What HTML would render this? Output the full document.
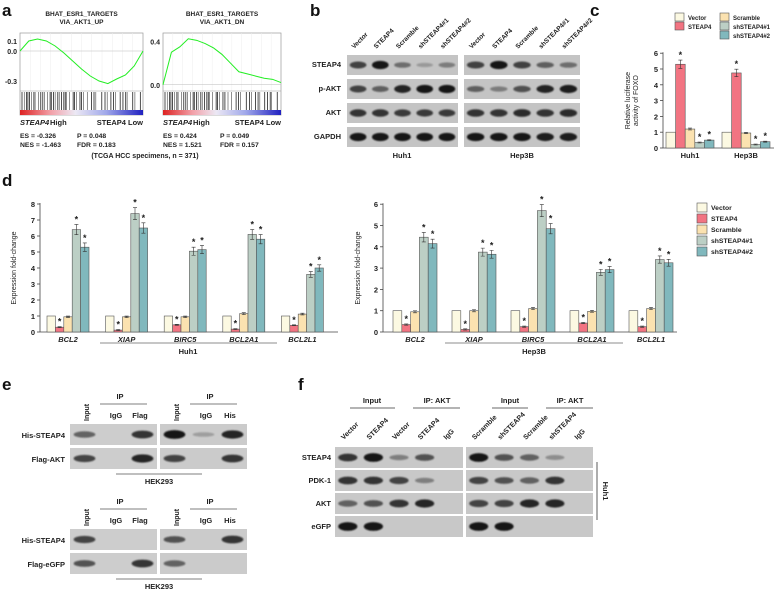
<!DOCTYPE html>
<html><head><meta charset="utf-8"><style>
body{margin:0;background:#fff}
svg{display:block;font-family:"Liberation Sans",Arial,sans-serif}
.t{font-weight:bold;fill:#222}
.pl{font-size:17px;font-weight:bold;fill:#111}
</style></head><body>
<svg id="s" width="777" height="590" viewBox="0 0 777 590">
<defs><filter id="bl" x="-20%" y="-50%" width="140%" height="200%"><feGaussianBlur stdDeviation="0.9"/></filter>
<linearGradient id="hm" x1="0" x2="1"><stop offset="0" stop-color="#d22"/><stop offset="0.25" stop-color="#f2a0a8"/><stop offset="0.45" stop-color="#ece8f4"/><stop offset="0.7" stop-color="#a0a8ea"/><stop offset="1" stop-color="#2020c0"/></linearGradient></defs>
<text class="pl" x="2" y="16">a</text>
<text class="pl" x="310" y="16">b</text>
<text class="pl" x="590" y="16">c</text>
<text class="pl" x="2" y="186">d</text>
<text class="pl" x="2" y="390">e</text>
<text class="pl" x="298" y="390">f</text>
<g id="g"></g>
</svg>
<script>
// ---- data ----
const genes=["BCL2","XIAP","BIRC5","BCL2A1","BCL2L1"];
const groups=["Vector","STEAP4","Scramble","shSTEAP4#1","shSTEAP4#2"];
const huh1Vals=[[1,0.3,0.95,6.4,5.3],[1,0.12,0.95,7.4,6.5],[1,0.45,0.95,5.05,5.15],[1,0.18,1.15,6.1,5.8],[1,0.42,1.12,3.6,4.0]];
const hep3bVals=[[1,0.35,0.95,4.45,4.15],[1,0.12,1.0,3.75,3.65],[1,0.25,1.1,5.7,4.85],[1,0.42,0.97,2.8,2.93],[1,0.25,1.1,3.4,3.25]];
const foxoCells=["Huh1","Hep3B"];
const foxoVals=[[1,5.3,1.2,0.35,0.5],[1,4.75,0.95,0.22,0.4]];
const gseaUp=[0,0.1,0.12,0.1,0.05,-0.02,-0.1,-0.18,-0.25,-0.3,-0.326,-0.28,-0.24,-0.15,0];
const gseaDn=[0,0.3,0.35,0.424,0.41,0.38,0.34,0.28,0.2,0.12,0.1,0.08,0.06,0.05,0.02];
const bandsB=[[0.7,1,0.4,0.1,0.3,0.7,1,0.7,0.5,0.4],[0.7,0.5,0.9,1,1,0.5,0.3,0.6,0.9,0.95],[0.8,0.8,0.75,0.75,0.75,0.8,0.8,0.85,0.8,0.85],[1,1,1,1,1,1,1,1,0.95,0.95]];
const bandsF=[[0.8,1,0.3,0.6,0,1,0.6,0.5,0.2,0],[0.8,0.8,0.7,0.3,0,0.7,0.6,0.5,0.8,0],[0.5,0.6,0.8,0.9,0,0.7,0.7,0.9,0.9,0],[1,1,0,0,0,1,1,0,0,0]];
const colors=["#fcf9e2","#f27482","#fbe2b0","#bccfc5","#80b8bd"];
const NS="http://www.w3.org/2000/svg",G=document.getElementById("g");
function el(t,a,p){const e=document.createElementNS(NS,t);for(const k in a)e.setAttribute(k,a[k]);(p||G).appendChild(e);return e}
function tx(x,y,s,o){o=o||{};const e=el("text",Object.assign({x:x,y:y,class:"t","text-anchor":o.a||"start"},o.at||{}));if(o.it)e.setAttribute("font-style","italic");e.style.fontSize=(o.fs||8)+"px";e.textContent=s;

return e}

// ---- panel a ----
function gsea(x0,x1,title1,title2,vals,ymax,ymin,ticks,es,nes,p,fdr,nm){
 const yT=33,yB=91;const ys=v=>yT+3+(ymax-v)/(ymax-ymin)*(yB-yT-6);
 tx((x0+x1)/2,16,title1,{a:"middle",fs:6.5});tx((x0+x1)/2,24,title2,{a:"middle",fs:6.5});
 const box=el("rect",{x:x0,y:yT,width:x1-x0,height:82,fill:"#fff",stroke:"#999","stroke-width":0.7});
 
 for(let i=1;i<12;i++)el("line",{x1:x0+i*(x1-x0)/12,x2:x0+i*(x1-x0)/12,y1:yT,y2:yB,stroke:"#eee","stroke-width":0.5});
 el("line",{x1:x0,x2:x1,y1:ys(0),y2:ys(0),stroke:"#bbb","stroke-width":0.6});
 ticks.forEach(t=>tx(x0-3,ys(t)+3,t.toFixed(1),{a:"end",fs:7,n:"y-tick"}));
 el("line",{x1:x0,x2:x1,y1:yB,y2:yB,stroke:"#999","stroke-width":0.5});
 const pts=vals.map((v,i)=>[x0+i*(x1-x0)/(vals.length-1),ys(v)]);
 const ln=el("polyline",{points:pts.map(q=>q.join(",")).join(" "),fill:"none",stroke:"#2e2","stroke-width":1});
 
 let s=7;for(let x=x0+2;x<x1-2;){s=(s*9301+49297)%233280;const r=s/233280;el("line",{x1:x,x2:x,y1:yB+1,y2:110,stroke:"#222","stroke-width":r<0.5?0.8:0.5});x+=1+r*(x<(x0+x1)/2?2.5:5);}
 el("rect",{x:x0,y:110,width:x1-x0,height:5,fill:"url(#hm)"});
 tx(x0,125,"STEAP4",{it:1,fs:7.5});tx(x0+30,125,"High",{fs:7.5});
 tx(x1,125,"STEAP4 Low",{a:"end",fs:7.5});
 tx(x0,138,"ES = "+es,{fs:6.8});tx(x0,147,"NES = "+nes,{fs:6.8});
 tx(x0+57,138,"P = "+p,{fs:6.8});tx(x0+57,147,"FDR = "+fdr,{fs:6.8});
}
gsea(20,143,"BHAT_ESR1_TARGETS","VIA_AKT1_UP",gseaUp,0.15,-0.37,[0.1,0.0,-0.3],"-0.326","-1.463","0.048","0.183","gsea-up");
gsea(163,281,"BHAT_ESR1_TARGETS","VIA_AKT1_DN",gseaDn,0.45,-0.03,[0.4,0.0],"0.424","1.521","0.049","0.157","gsea-dn");
tx(145,158,"(TCGA HCC specimens, n = 371)",{a:"middle",fs:7,n:"tcga-caption"});

// ---- blots ----
function band(cx,cy,w,h,int){if(int<=0.02)return;const b=el("ellipse",{cx:cx,cy:cy,rx:w/2,ry:h/2*(0.5+int*0.6),fill:"#111",opacity:Math.min(1,0.15+int*0.8),filter:"url(#bl)"});
}
function blot(x,y,w,h,lanes,ints,nm,bg){const r=el("rect",{x:x,y:y,width:w,height:h,fill:bg||"#c4c4c4"});
 const lw=w/lanes;ints.forEach((v,i)=>band(x+lw*(i+0.5),y+h/2,lw*0.75,h*0.38,v));}
// panel b
const bRows=["STEAP4","p-AKT","AKT","GAPDH"],bY=[55,79,103,127];
const bLanes=["Vector","STEAP4","Scramble","shSTEAP4#1","shSTEAP4#2"];
bRows.forEach((r,i)=>{tx(341,bY[i]+12,r,{a:"end",fs:7.5,n:"row-label"});
 blot(347,bY[i],111,20,5,bandsB[i].slice(0,5),"blot-b-huh1");blot(464,bY[i],116,20,5,bandsB[i].slice(5),"blot-b-hep3b");});
[347,464].forEach((x0,k)=>{const w=k?116:111;bLanes.forEach((l,i)=>{const cx=x0+w/5*(i+0.5);tx(cx-4,49,l,{fs:6.5,at:{transform:`rotate(-45 ${cx-4} 49)`},n:"lane-label"});});});
tx(402,158,"Huh1",{a:"middle",fs:7.5});tx(522,158,"Hep3B",{a:"middle",fs:7.5});

// ---- bar charts ----
function star(x,y){tx(x,y,"*",{a:"middle",fs:9,n:"sig-star"})}
function barChart(o){
 const ys=v=>o.y0-v*o.py;
 el("line",{x1:o.ax,x2:o.ax,y1:ys(o.ymax)-1,y2:o.y0,stroke:"#444","stroke-width":0.8});
 el("line",{x1:o.ax,x2:o.axEnd,y1:o.y0,y2:o.y0,stroke:"#444","stroke-width":0.8});
 for(let t=0;t<=o.ymax;t++){el("line",{x1:o.ax-3,x2:o.ax,y1:ys(t),y2:ys(t),stroke:"#444","stroke-width":0.8});tx(o.ax-5,ys(t)+3,String(t),{a:"end",fs:7.5,n:"y-tick"});}
 const yt=tx(o.ytx,(ys(o.ymax)+o.y0)/2,o.ytitle[0],{a:"middle",fs:7,at:{transform:`rotate(-90 ${o.ytx} ${(ys(o.ymax)+o.y0)/2})`},n:"y-axis-title"});yt.style.fontWeight="normal";
 if(o.ytitle[1]){const y2=tx(o.ytx+8,(ys(o.ymax)+o.y0)/2,o.ytitle[1],{a:"middle",fs:7,at:{transform:`rotate(-90 ${o.ytx+8} ${(ys(o.ymax)+o.y0)/2})`},n:"y-axis-title"});y2.style.fontWeight="normal";}
 o.vals.forEach((gv,gi)=>{const gx=o.gx0+gi*o.stride;
  gv.forEach((v,bi)=>{const x=gx+bi*o.bw;
   const r=el("rect",{x:x,y:ys(v),width:o.bw,height:v*o.py,fill:colors[bi],stroke:"#555","stroke-width":0.6});
   
   if(bi>0){const e=Math.max(0.03,v*0.05)*o.py,cx=x+o.bw/2;el("path",{d:`M${cx},${ys(v)-e}V${ys(v)+e}M${cx-2},${ys(v)-e}H${cx+2}M${cx-2},${ys(v)+e}H${cx+2}`,stroke:"#333","stroke-width":0.6,fill:"none"});}
   if(bi==1||bi==3||bi==4)star(x+o.bw/2,ys(v)-Math.max(0.03,v*0.05)*o.py-2);
  });
  tx(gx+o.bw*2.5,o.y0+10,o.cats[gi],{a:"middle",fs:7.5,it:o.itCats,n:"category-label"});
 });
}
barChart({vals:huh1Vals,cats:genes,ax:40,axEnd:338,y0:332,py:16,ymax:8,gx0:47,stride:58.6,bw:8.4,ytx:16,ytitle:["Expression fold-change"],itCats:1});
el("line",{x1:100,x2:277,y1:343,y2:343,stroke:"#666","stroke-width":0.7});tx(188,354,"Huh1",{a:"middle",fs:7.5});
barChart({vals:hep3bVals,cats:genes,ax:383,axEnd:677,y0:332,py:21.3,ymax:6,gx0:393,stride:59,bw:8.8,ytx:360,ytitle:["Expression fold-change"],itCats:1});
el("line",{x1:445,x2:623,y1:343,y2:343,stroke:"#666","stroke-width":0.7});tx(534,354,"Hep3B",{a:"middle",fs:7.5});
barChart({vals:foxoVals,cats:foxoCells,ax:663,axEnd:774,y0:148,py:15.8,ymax:6,gx0:666,stride:56,bw:9.6,ytx:630,ytitle:["Relative luciferase","activity of FOXO"],itCats:0});
// legends
groups.forEach((g,i)=>{const r=el("rect",{x:697,y:203+i*11,width:10,height:9,fill:colors[i],stroke:"#555","stroke-width":0.6});tx(711,210+i*11,g,{fs:6.8,n:"legend-entry"});});
const lp=[[675,13],[675,22],[720,13],[720,22],[720,31]];
groups.forEach((g,i)=>{const r=el("rect",{x:lp[i][0],y:lp[i][1],width:9,height:8,fill:colors[i],stroke:"#555","stroke-width":0.6});tx(lp[i][0]+13,lp[i][1]+7,g,{fs:6,n:"legend-entry"});});

// ---- panel e ----
function eBlock(y,rowNames,ints){
 [[70,"Flag"],[160,"His"]].forEach(([x0,t],k)=>{
  tx(x0+19,y-3,"Input",{a:"start",fs:7,at:{transform:`rotate(-90 ${x0+19} ${y-3})`},n:"lane-label"});
  tx(x0+50,y-25,"IP",{a:"middle",fs:7.5});el("line",{x1:x0+30,x2:x0+77,y1:y-20,y2:y-20,stroke:"#555","stroke-width":0.8});
  tx(x0+46,y-6,"IgG",{a:"middle",fs:7.5,n:"lane-label"});tx(x0+70,y-6,t,{a:"middle",fs:7.5,n:"lane-label"});
 });
 rowNames.forEach((r,i)=>{const yy=y+i*24;tx(65,yy+14,r,{a:"end",fs:7.5,n:"row-label"});
  blot(70,yy,87,21,3,ints[i].slice(0,3),"blot-e",'#cdcdcd');blot(160,yy,87,21,3,ints[i].slice(3),"blot-e",'#cbcbcb');});
 el("line",{x1:116,x2:202,y1:y+50,y2:y+50,stroke:"#555","stroke-width":0.8});tx(159,y+60,"HEK293",{a:"middle",fs:7.5});
}
const bandsE1=[[0.5,0,0.8,1,0.1,0.9],[0.7,0,0.9,0.7,0,0.8]];
const bandsE2=[[0.7,0,0,0.6,0,0.8],[0.6,0,0.8,0.5,0,0]];
eBlock(424,["His-STEAP4","Flag-AKT"],bandsE1);
eBlock(529,["His-STEAP4","Flag-eGFP"],bandsE2);

// ---- panel f ----
const fRows=["STEAP4","PDK-1","AKT","eGFP"],fY=[447,470,493,516];
const fLanes=[["Vector","STEAP4","Vector","STEAP4","IgG"],["Scramble","shSTEAP4","Scramble","shSTEAP4","IgG"]];
fRows.forEach((r,i)=>{tx(331,fY[i]+13,r,{a:"end",fs:7.5,n:"row-label"});
 blot(335,fY[i],128,21,5,bandsF[i].slice(0,5),"blot-f-left",'#c8c8c8');blot(466,fY[i],127,21,5,bandsF[i].slice(5),"blot-f-right",'#c8c8c8');});
[335,466].forEach((x0,k)=>{fLanes[k].forEach((l,i)=>{const cx=x0+25.6*(i+0.5)-4;tx(cx,440,l,{fs:7,at:{transform:`rotate(-45 ${cx} 440)`},n:"lane-label"});});});
[[372,350,395,"Input"],[437,413,460,"IP: AKT"],[510,492,528,"Input"],[570,546,593,"IP: AKT"]].forEach(h=>{tx(h[0],403,h[3],{a:"middle",fs:7.5,n:"header-label"});el("line",{x1:h[1],x2:h[2],y1:408,y2:408,stroke:"#888","stroke-width":1.2});});
el("line",{x1:597,x2:597,y1:462,y2:520,stroke:"#333","stroke-width":0.8});
tx(603,491,"Huh1",{a:"middle",fs:7.5,at:{transform:"rotate(90 603 491)"}});
</script>
</body></html>
